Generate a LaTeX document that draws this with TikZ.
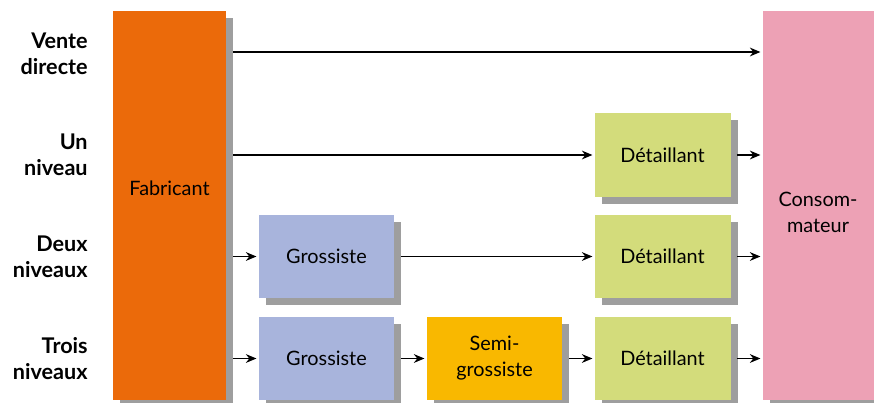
\documentclass[tikz,border=0pt]{standalone}
\usepackage{fontspec}
\setmainfont{Lato}
\usetikzlibrary{arrows.meta,positioning,shadows}
\definecolor{fabcol}{HTML}{EB6A0A}
\definecolor{conscol}{HTML}{EDA1B5}
\definecolor{grocol}{HTML}{A8B4DC}
\definecolor{semicol}{HTML}{F9B800}
\definecolor{detcol}{HTML}{D3DC7B}
\begin{document}
\begin{tikzpicture}[x=0.02cm,y=-0.02cm,
    font=\fontsize{11.3}{14.8}\selectfont,
    box/.style={inner sep=0pt, minimum width=2.72cm, minimum height=1.68cm, align=center,
      drop shadow={shadow xshift=0.14cm, shadow yshift=-0.14cm, fill=black!38, opacity=1}},
    arr/.style={semithick, -{Stealth[length=6pt,width=5pt]}, shorten >=1pt},
    lvl/.style={anchor=east, align=right, inner sep=0pt, font=\fontsize{12.3}{14.8}\selectfont\bfseries}]
  \useasboundingbox (0,0) rectangle (874,402);
  % big columns
  \node[box, fill=fabcol, minimum width=2.26cm, minimum height=7.78cm] (fab) at (169.5,205.5) {};
  \node (fabtxt) at (169.5,188) {Fabricant};
  \node[box, fill=conscol, minimum width=2.26cm, minimum height=7.78cm] (cons) at (819,205.5) {};
  \node[align=center] (constxt) at (818,212) {Consom-\\mateur};
  % intermediaries
  \node[box, fill=detcol] (det1) at (662.5,155) {Détaillant};
  \node[box, fill=grocol] (gro2) at (326.5,256.5) {Grossiste};
  \node[box, fill=detcol] (det2) at (662.5,256.5) {Détaillant};
  \node[box, fill=grocol] (gro3) at (326.5,358.5) {Grossiste};
  \node[box, fill=semicol] (semi3) at (494.5,358.5) {Semi-\\grossiste};
  \node[box, fill=detcol] (det3) at (662.5,358.5) {Détaillant};
  % levels
  \node[lvl] (l0) at (88,53.5) {Vente\\directe};
  \node[lvl] (l1) at (88,155) {Un\\niveau};
  \node[lvl] (l2) at (88,257) {Deux\\niveaux};
  \node[lvl] (l3) at (88,359) {Trois\\niveaux};
  % flows
  \coordinate (r0) at (0,52);
  \draw[arr] ([xshift=0.14cm]fab.east |- r0) -- (cons.west |- r0);
  \draw[arr] ([xshift=0.14cm]fab.east |- det1.west) -- (det1.west);
  \draw[arr] ([xshift=0.12cm]det1.east) -- (cons.west |- det1.east);
  \draw[arr] ([xshift=0.14cm]fab.east |- gro2.west) -- (gro2.west);
  \draw[arr] ([xshift=0.12cm]gro2.east) -- (det2.west);
  \draw[arr] ([xshift=0.12cm]det2.east) -- (cons.west |- det2.east);
  \draw[arr] ([xshift=0.14cm]fab.east |- gro3.west) -- (gro3.west);
  \draw[arr] ([xshift=0.12cm]gro3.east) -- (semi3.west);
  \draw[arr] ([xshift=0.12cm]semi3.east) -- (det3.west);
  \draw[arr] ([xshift=0.12cm]det3.east) -- (cons.west |- det3.east);
\end{tikzpicture}
\end{document}
